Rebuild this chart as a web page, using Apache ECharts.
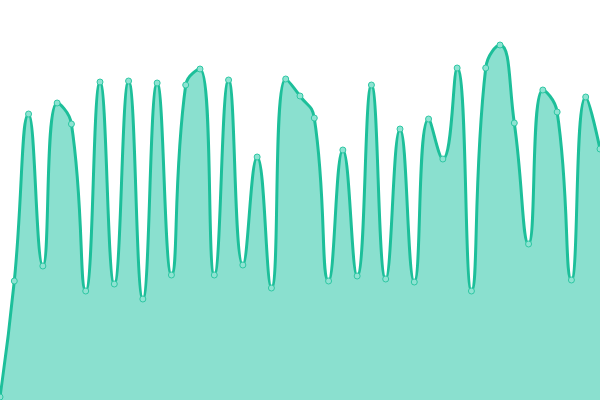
<!DOCTYPE html>
<html>
<head>
<meta charset="utf-8">
<script src="https://cdn.jsdelivr.net/npm/echarts@6/dist/echarts.min.js"></script>
<style>html,body{margin:0;padding:0;background:#fff}#c{width:600px;height:400px}</style>
</head>
<body>
<div id="c"></div>
<script>
const categories = Array.from({length: 43}, (_, i) => 'P' + (i + 1));
const values = [3, 119, 286, 134, 297, 276, 109, 318, 116, 319, 101, 317, 125, 315, 331,
  125, 320, 135, 243, 112, 321, 304, 282, 119, 250, 124, 315, 121, 271,
  118, 281, 241, 332, 109, 332, 355, 277, 156, 310, 288, 120, 303, 251];
const chart = echarts.init(document.getElementById('c'));
chart.setOption({
  animation: false,
  grid: {left: 0, right: 0, top: 0, bottom: 0},
  xAxis: {type: 'category', data: categories, boundaryGap: false, show: false},
  yAxis: {type: 'value', min: 0, max: 400, show: false},
  series: [{
    type: 'line',
    data: values,
    smooth: true,
    symbol: 'circle',
    symbolSize: 6,
    itemStyle: {color: '#8ee3d2', borderColor: '#2ec7a3', borderWidth: 1},
    lineStyle: {color: '#1dbf9a', width: 3},
    areaStyle: {color: '#8ae0cf', opacity: 1}
  }]
});
</script>
</body>
</html>
